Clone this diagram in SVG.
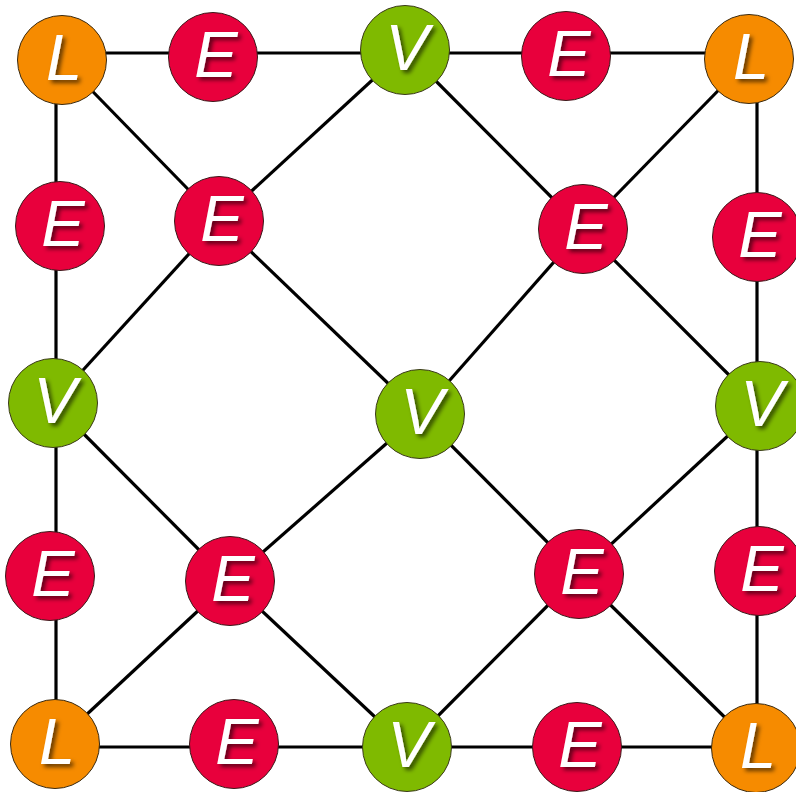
<svg xmlns="http://www.w3.org/2000/svg" width="796" height="792" viewBox="0 0 796 792">
<defs>
<filter id="sh" x="-50%" y="-50%" width="200%" height="200%">
<feDropShadow dx="3" dy="3" stdDeviation="2" flood-color="#000" flood-opacity="0.6"/>
</filter>
<style>
.e{fill:#e8003c;stroke:#3a1a1a;stroke-width:1}
.v{fill:#7fba00;stroke:#3a3a1a;stroke-width:1}
.l{fill:#f68b00;stroke:#3a2a10;stroke-width:1}
text{font-family:"Liberation Sans",Arial,sans-serif;font-style:italic;font-size:65px;fill:#fff;text-anchor:middle;filter:url(#sh)}
#edges line{stroke:#000;stroke-width:3.2}
</style>
</defs>
<rect width="796" height="792" fill="#fff"/>
<g id="edges">
<line x1="62" y1="53" x2="749" y2="53"/>
<line x1="56" y1="60" x2="56" y2="744"/>
<line x1="757" y1="59" x2="757" y2="748"/>
<line x1="55" y1="747" x2="756" y2="747"/>
<line x1="62" y1="60" x2="219" y2="221"/>
<line x1="219" y1="221" x2="405" y2="50"/>
<line x1="219" y1="221" x2="53" y2="403"/>
<line x1="219" y1="221" x2="420" y2="414"/>
<line x1="405" y1="50" x2="583" y2="229"/>
<line x1="749" y1="59" x2="583" y2="229"/>
<line x1="583" y1="229" x2="760" y2="406"/>
<line x1="583" y1="229" x2="420" y2="414"/>
<line x1="53" y1="403" x2="230" y2="581"/>
<line x1="420" y1="414" x2="230" y2="581"/>
<line x1="55" y1="744" x2="230" y2="581"/>
<line x1="230" y1="581" x2="407" y2="747"/>
<line x1="420" y1="414" x2="579" y2="574"/>
<line x1="760" y1="406" x2="579" y2="574"/>
<line x1="579" y1="574" x2="407" y2="747"/>
<line x1="579" y1="574" x2="756" y2="748"/>
</g>
<g id="L1"><circle class="l" cx="62" cy="60" r="44.5"/><text x="64" y="80">L</text></g>
<g id="E1"><circle class="e" cx="213" cy="57" r="44.5"/><text x="216" y="77">E</text></g>
<g id="V1"><circle class="v" cx="405" cy="50" r="44.5"/><text x="407" y="70">V</text></g>
<g id="E2"><circle class="e" cx="566" cy="56" r="44.5"/><text x="569" y="76">E</text></g>
<g id="L2"><circle class="l" cx="749" cy="59" r="44.5"/><text x="751" y="79">L</text></g>
<g id="E3"><circle class="e" cx="60" cy="226" r="44.5"/><text x="63" y="246">E</text></g>
<g id="E4"><circle class="e" cx="219" cy="221" r="44.5"/><text x="222" y="241">E</text></g>
<g id="E5"><circle class="e" cx="583" cy="229" r="44.5"/><text x="586" y="249">E</text></g>
<g id="E6"><circle class="e" cx="757" cy="237" r="44.5"/><text x="760" y="257">E</text></g>
<g id="V2"><circle class="v" cx="53" cy="403" r="44.5"/><text x="55" y="423">V</text></g>
<g id="V3"><circle class="v" cx="420" cy="414" r="44.5"/><text x="422" y="434">V</text></g>
<g id="V4"><circle class="v" cx="760" cy="406" r="44.5"/><text x="762" y="426">V</text></g>
<g id="E7"><circle class="e" cx="50" cy="576" r="44.5"/><text x="53" y="596">E</text></g>
<g id="E8"><circle class="e" cx="230" cy="581" r="44.5"/><text x="233" y="601">E</text></g>
<g id="E9"><circle class="e" cx="579" cy="574" r="44.5"/><text x="582" y="594">E</text></g>
<g id="E10"><circle class="e" cx="759" cy="571" r="44.5"/><text x="762" y="591">E</text></g>
<g id="L3"><circle class="l" cx="55" cy="744" r="44.5"/><text x="57" y="764">L</text></g>
<g id="E11"><circle class="e" cx="234" cy="744" r="44.5"/><text x="237" y="764">E</text></g>
<g id="V5"><circle class="v" cx="407" cy="747" r="44.5"/><text x="409" y="767">V</text></g>
<g id="E12"><circle class="e" cx="577" cy="747" r="44.5"/><text x="580" y="767">E</text></g>
<g id="L4"><circle class="l" cx="756" cy="748" r="44.5"/><text x="758" y="768">L</text></g>
</svg>
